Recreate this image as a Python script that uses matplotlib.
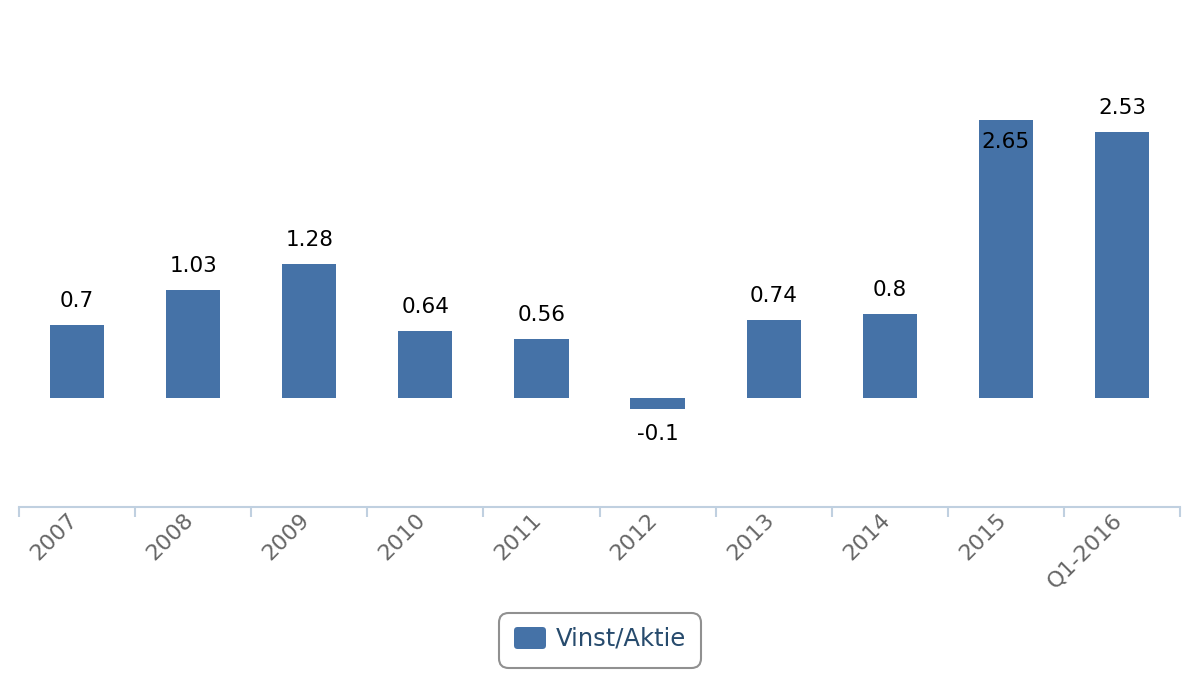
import matplotlib
matplotlib.use("Agg")
import matplotlib.pyplot as plt
from matplotlib.patches import FancyBboxPatch
import matplotlib.transforms as mtransforms

categories = ["2007", "2008", "2009", "2010", "2011", "2012", "2013", "2014", "2015", "Q1-2016"]
values = [0.7, 1.03, 1.28, 0.64, 0.56, -0.1, 0.74, 0.8, 2.65, 2.53]
labels = ["0.7", "1.03", "1.28", "0.64", "0.56", "-0.1", "0.74", "0.8", "2.65", "2.53"]
series_name = "Vinst/Aktie"

bar_color = "#4572A7"
axis_color = "#C0D0E0"

fig = plt.figure(figsize=(12, 7), dpi=100)
ax = fig.add_axes([19/1200, (700-507)/700, (1180-19)/1200, (507-20)/700])
x = list(range(len(categories)))
ax.bar(x, values, width=0.466, color=bar_color, zorder=2, label=series_name)
ax.set_xlim(-0.5, len(categories) - 0.5)
ax.set_ylim(-1.038, 3.6)

for i, (v, lab) in enumerate(zip(values, labels)):
    if v < 0:
        off = -25
    elif i == 8:
        off = -22
    else:
        off = 24
    ax.annotate(lab, xy=(i, v), xytext=(0, off * 0.72), textcoords="offset points",
                ha="center", va="center", fontsize=15.5, color="black")

for s in ["top", "right", "left"]:
    ax.spines[s].set_visible(False)
ax.spines["bottom"].set_color(axis_color)
ax.spines["bottom"].set_linewidth(1.5)
ax.set_yticks([])

ax.set_xticks([i - 0.5 for i in range(len(categories) + 1)], minor=False)
ax.set_xticklabels([])
ax.tick_params(axis="x", which="major", length=7, width=1.5, color=axis_color, direction="out")
ax.set_xticks(x, minor=True)
ax.set_xticklabels(categories, minor=True, rotation=45, ha="right", va="top",
                   rotation_mode="anchor", fontsize=16, color="#666666")
ax.tick_params(axis="x", which="minor", length=0, pad=2)
shift = mtransforms.ScaledTranslation(-10/100, 0, fig.dpi_scale_trans)
for lbl in ax.get_xticklabels(minor=True):
    lbl.set_transform(lbl.get_transform() + shift)

# legend
lx0, ly0, lw, lh = 499/1200, (700-668)/700, 202/1200, 55/700
box = FancyBboxPatch((lx0, ly0), lw, lh, boxstyle="round,pad=0,rounding_size=0.008",
                     transform=fig.transFigure, facecolor="white", edgecolor="#909090",
                     linewidth=1.5, mutation_aspect=1200/700)
fig.patches.append(box)
sq = FancyBboxPatch((514/1200, (700-649)/700), 32/1200, 22/700,
                    boxstyle="round,pad=0,rounding_size=0.003",
                    transform=fig.transFigure, facecolor=bar_color, edgecolor="none",
                    mutation_aspect=1200/700)
fig.patches.append(sq)
fig.text(556/1200, (700-639)/700, series_name, fontsize=17.5, color="#274b6d",
         ha="left", va="center")

fig.savefig("out.png", dpi=100)
